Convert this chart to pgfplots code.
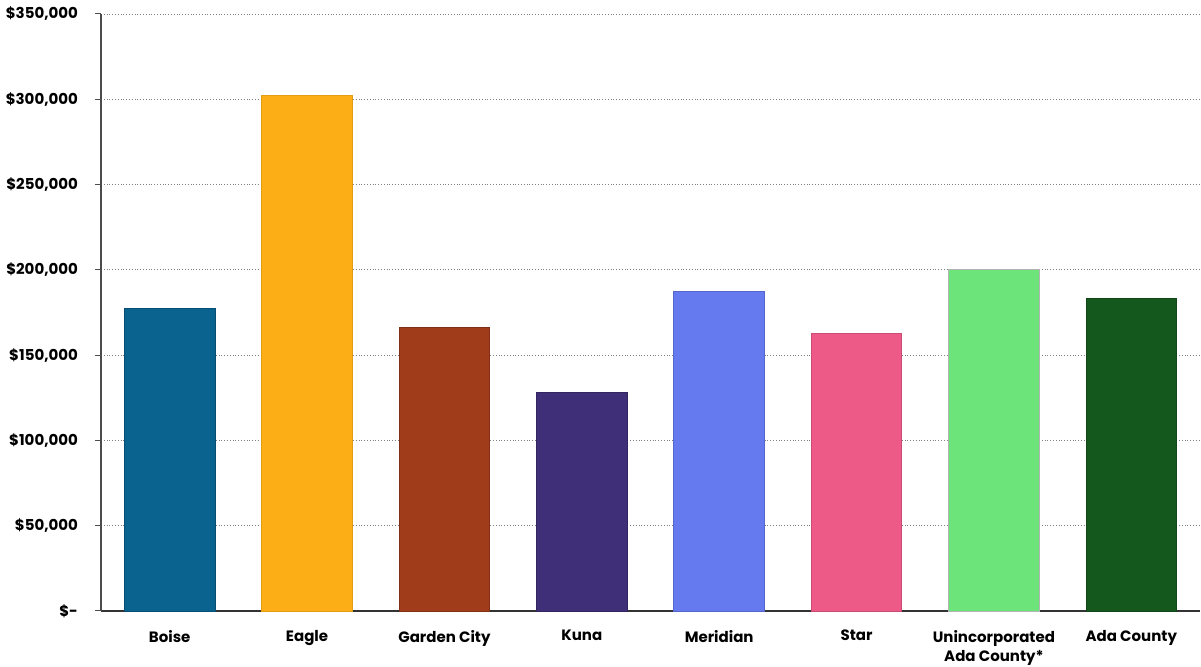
\documentclass[border=0pt]{standalone}
\usepackage{pgfplots}
\pgfplotsset{compat=1.18}
\usepackage{fontspec}
\setmainfont{Poppins}
\definecolor{cBoise}{RGB}{10,98,143}
\definecolor{cEagle}{RGB}{252,174,23}
\definecolor{cGarden}{RGB}{160,60,26}
\definecolor{cKuna}{RGB}{63,46,120}
\definecolor{cMeridian}{RGB}{100,122,238}
\definecolor{cStar}{RGB}{238,90,135}
\definecolor{cUninc}{RGB}{109,228,122}
\definecolor{cAda}{RGB}{20,88,30}
\begin{document}
\begin{tikzpicture}
\useasboundingbox (-50.5pt,-28pt) rectangle (550pt,305.5pt);
\begin{axis}[
  scale only axis,
  width=549.5pt, height=298.5pt,
  xmin=-0.5, xmax=7.5, ymin=0, ymax=350000,
  axis lines=left,
  axis line style={-, draw=black!70, line width=0.6pt},
  x axis line style={draw=black!80},
  xtick={0,...,7},
  xticklabels={Boise,Eagle,Garden City,Kuna,Meridian,Star,{Unincorporated\\Ada County*},Ada County},
  xtick style={draw=none},
  ytick={0,50000,...,350000},
  yticklabels={\$-,{\$50,000},{\$100,000},{\$150,000},{\$200,000},{\$250,000},{\$300,000},{\$350,000}},
  scaled y ticks=false,
  ytick style={draw=black!70, line width=0.5pt},
  tick align=outside,
  major tick length=3pt,
  ymajorgrids,
  grid style={densely dotted, draw=black!50, line width=0.4pt},
  yticklabel style={font=\fontsize{7.5}{9}\selectfont\bfseries, xshift=-5pt},
  xticklabel style={font=\fontsize{7.5}{9.5}\selectfont\bfseries, align=center, anchor=north, yshift=-3pt},
  ybar, bar width=0.66, bar shift=0pt,
  clip=false,
]
\addplot[fill=cBoise, draw=cBoise!80!black] coordinates {(0,177600)};
\addplot[fill=cEagle, draw=cEagle!90!black] coordinates {(1,302000)};
\addplot[fill=cGarden, draw=cGarden!80!black] coordinates {(2,166000)};
\addplot[fill=cKuna, draw=cKuna!80!black] coordinates {(3,128000)};
\addplot[fill=cMeridian, draw=cMeridian!85!black] coordinates {(4,187500)};
\addplot[fill=cStar, draw=cStar!85!black] coordinates {(5,163000)};
\addplot[fill=cUninc, draw=black!30] coordinates {(6,200000)};
\addplot[fill=cAda, draw=cAda!80!black] coordinates {(7,183500)};
\end{axis}
\end{tikzpicture}
\end{document}
